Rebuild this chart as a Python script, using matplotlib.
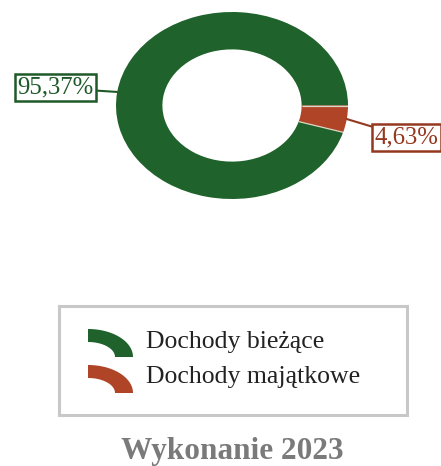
import numpy as np
import matplotlib
matplotlib.use("Agg")
import matplotlib.pyplot as plt
from matplotlib.patches import Polygon, Rectangle

categories = ["Dochody bieżące", "Dochody majątkowe"]
values = [95.37, 4.63]
labels = ["95,37%", "4,63%"]
title = "Wykonanie 2023"

colors = ["#1f622b", "#b04427"]
label_colors = ["#1e5a28", "#953820"]
label_offsets = [(-62, 4), (60, -18)]

W, H = 441, 466
fig = plt.figure(figsize=(W / 100, H / 100), dpi=100)
serif = ["Liberation Serif", "DejaVu Serif"]

# donut axes (elliptical)
left, right, top, bottom = 116, 348, 12, 199
ax = fig.add_axes([left / W, 1 - bottom / H, (right - left) / W, (bottom - top) / H])
wedges, _ = ax.pie(values, colors=colors, startangle=0, counterclock=True, radius=1,
                   wedgeprops=dict(width=0.4, edgecolor="none", linewidth=0))
ax.set_aspect("auto")
ax.set_xlim(-1, 1)
ax.set_ylim(-1, 1)
ax.axis("off")

# light separators between slices
for w in wedges:
    a = np.deg2rad(w.theta1)
    ax.plot([0.6 * np.cos(a), 1.0 * np.cos(a)], [0.6 * np.sin(a), 1.0 * np.sin(a)],
            color="#d9d6c4", lw=0.9, solid_capstyle="butt")

for w, lab, col, off in zip(wedges, labels, label_colors, label_offsets):
    th = np.deg2rad((w.theta1 + w.theta2) / 2)
    ax.annotate(lab, xy=(np.cos(th), np.sin(th)), xytext=off, textcoords="offset pixels",
                ha="center", va="center", fontsize=17.8, family=serif, color=col,
                bbox=dict(boxstyle="square,pad=0.1", fc="white", ec=col, lw=1.8),
                arrowprops=dict(arrowstyle="-", color=col, lw=1.5, shrinkA=0, shrinkB=0),
                annotation_clip=False)

# overlay in pixel coordinates for legend and title
ov = fig.add_axes([0, 0, 1, 1], zorder=-1)
ov.set_xlim(0, W)
ov.set_ylim(H, 0)
ov.axis("off")

ov.add_patch(Rectangle((59, 306), 348, 109, fill=False, ec="#c8c8c8", lw=2.2))

def arc_icon(x0, ytop, col):
    cx, cy = x0, ytop + 28
    t = np.linspace(np.pi / 2, 0, 40)
    outer = np.column_stack([cx + 45 * np.cos(t), cy - 28 * np.sin(t)])
    inner = np.column_stack([cx + 27 * np.cos(t[::-1]), cy - 15 * np.sin(t[::-1])])
    ov.add_patch(Polygon(np.vstack([outer, inner]), closed=True, fc=col, ec="none"))

for i, (cat, col) in enumerate(zip(categories, colors)):
    y0 = 329 + 36 * i
    arc_icon(88, y0, col)
    ov.text(146, 348 + 35 * i, cat, fontsize=18.5, family=serif, color="#222222",
            ha="left", va="baseline")

ov.text(232.5, 459, title, fontsize=22.5, family=serif, fontweight="bold",
        color="#7a7a7a", ha="center", va="baseline")

fig.savefig("out.png", dpi=100)
